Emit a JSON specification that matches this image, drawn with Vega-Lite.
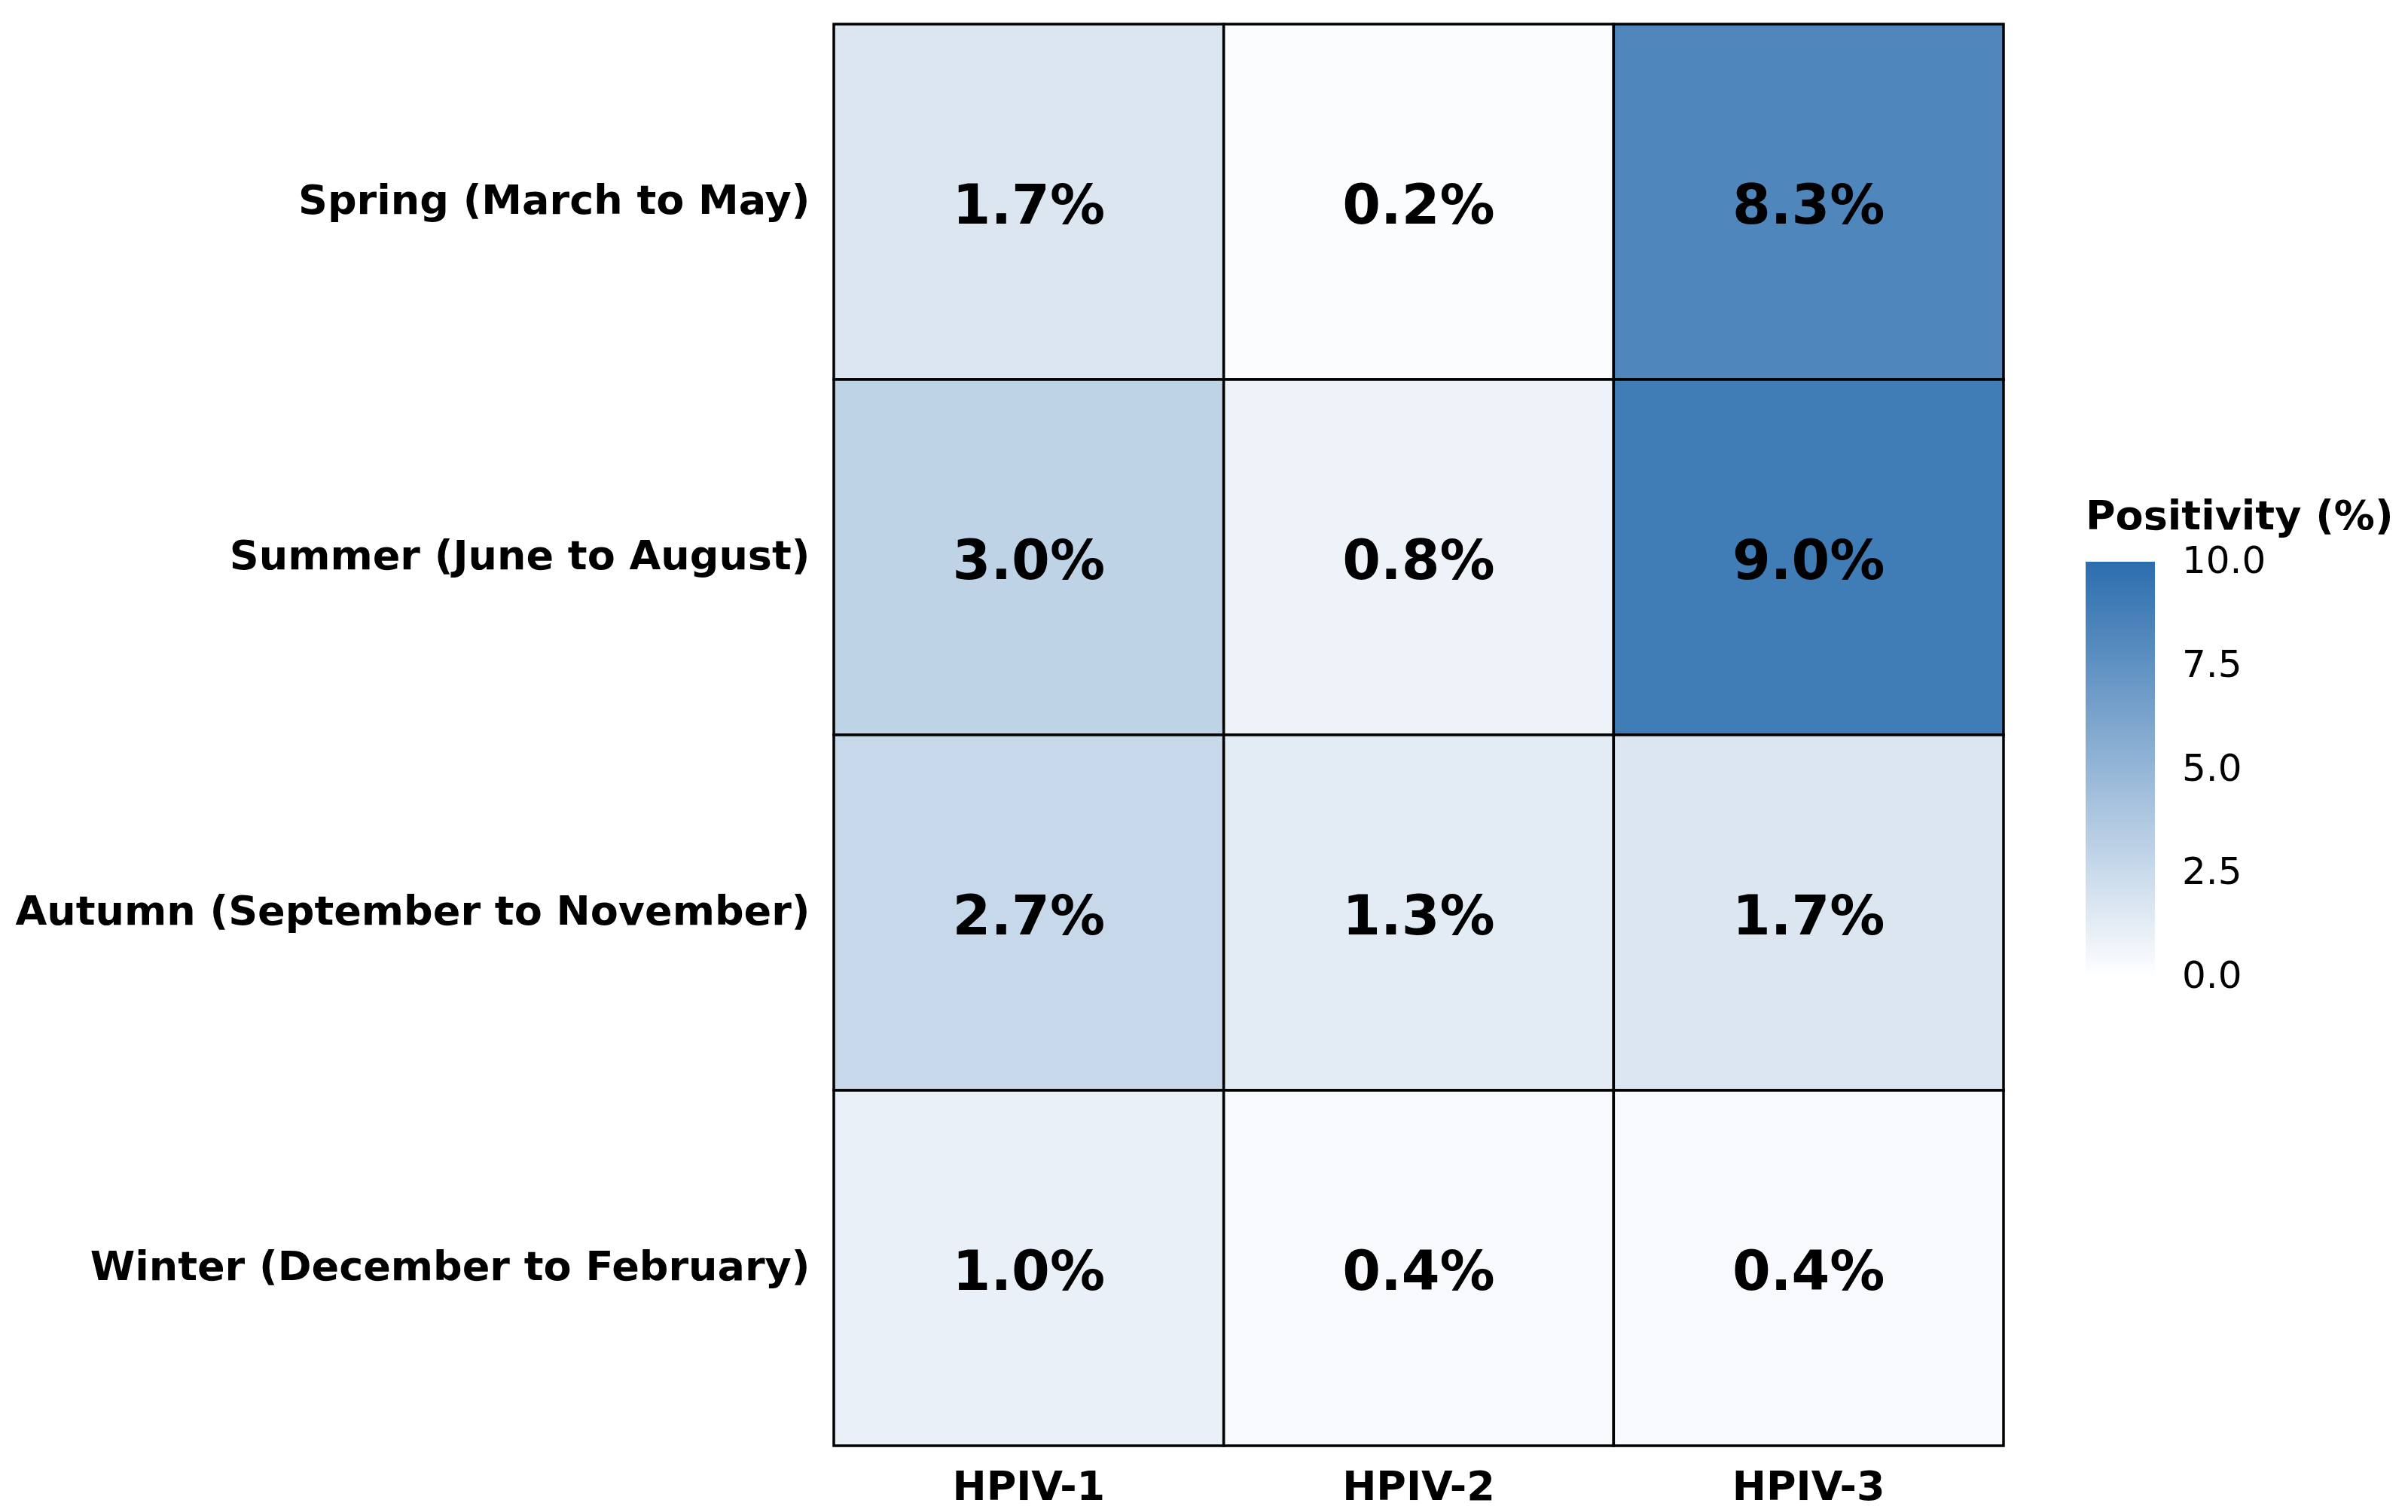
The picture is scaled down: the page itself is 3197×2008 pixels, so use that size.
{
  "$schema": "https://vega.github.io/schema/vega-lite/v6.json",
  "width": 1553,
  "height": 1888,
  "padding": {"left": 20, "top": 30, "right": 5, "bottom": 5},
  "background": "white",
  "config": {
    "view": {"stroke": null},
    "font": "DejaVu Sans"
  },
  "data": {
    "values": [
      {"season": "Spring (March to May)", "virus": "HPIV-1", "value": 1.7},
      {"season": "Spring (March to May)", "virus": "HPIV-2", "value": 0.2},
      {"season": "Spring (March to May)", "virus": "HPIV-3", "value": 8.3},
      {"season": "Summer (June to August)", "virus": "HPIV-1", "value": 3.0},
      {"season": "Summer (June to August)", "virus": "HPIV-2", "value": 0.8},
      {"season": "Summer (June to August)", "virus": "HPIV-3", "value": 9.0},
      {"season": "Autumn (September to November)", "virus": "HPIV-1", "value": 2.7},
      {"season": "Autumn (September to November)", "virus": "HPIV-2", "value": 1.3},
      {"season": "Autumn (September to November)", "virus": "HPIV-3", "value": 1.7},
      {"season": "Winter (December to February)", "virus": "HPIV-1", "value": 1.0},
      {"season": "Winter (December to February)", "virus": "HPIV-2", "value": 0.4},
      {"season": "Winter (December to February)", "virus": "HPIV-3", "value": 0.4}
    ]
  },
  "transform": [
    {"calculate": "format(datum.value, '.1f') + '%'", "as": "label"}
  ],
  "encoding": {
    "x": {
      "field": "virus",
      "type": "nominal",
      "sort": ["HPIV-1", "HPIV-2", "HPIV-3"],
      "scale": {"paddingInner": 0, "paddingOuter": 0},
      "axis": {
        "title": null,
        "labelAngle": 0,
        "labelFont": "DejaVu Sans",
        "labelFontSize": 54,
        "labelFontWeight": "bold",
        "labelColor": "black",
        "labelPadding": 28,
        "labelLimit": 2000,
        "ticks": false,
        "domain": false
      }
    },
    "y": {
      "field": "season",
      "type": "nominal",
      "sort": ["Spring (March to May)", "Summer (June to August)", "Autumn (September to November)", "Winter (December to February)"],
      "scale": {"paddingInner": 0, "paddingOuter": 0},
      "axis": {
        "title": null,
        "labelFont": "DejaVu Sans",
        "labelFontSize": 54,
        "labelFontWeight": "bold",
        "labelColor": "black",
        "labelPadding": 32,
        "labelLimit": 2000,
        "ticks": false,
        "domain": false
      }
    }
  },
  "layer": [
    {
      "mark": {"type": "rect", "stroke": "black", "strokeWidth": 3.5},
      "encoding": {
        "color": {
          "field": "value",
          "type": "quantitative",
          "scale": {"domain": [0, 10], "range": ["#FFFFFF", "#2B6DAE"], "interpolate": "rgb"},
          "legend": {
            "title": "Positivity (%)",
            "titleFont": "DejaVu Sans",
            "titleFontSize": 54,
            "titleFontWeight": "bold",
            "titleColor": "black",
            "titlePadding": 32,
            "titleLimit": 2000,
            "orient": "none",
            "legendX": 1662,
            "legendY": 628,
            "direction": "vertical",
            "gradientLength": 551,
            "gradientThickness": 92,
            "gradientStrokeWidth": 0,
            "values": [0, 2.5, 5, 7.5, 10],
            "format": ".1f",
            "labelFont": "DejaVu Sans",
            "labelFontSize": 50,
            "labelColor": "black",
            "labelOffset": 36,
            "labelLimit": 1000,
            "labelBaseline": "middle",
            "labelOverlap": false,
            "encode": {
              "labels": {"update": {"baseline": {"value": "middle"}}}
            }
          }
        }
      }
    },
    {
      "mark": {"type": "text", "font": "DejaVu Sans", "fontSize": 73, "fontWeight": "bold", "color": "black", "baseline": "middle", "align": "center", "dy": 7},
      "encoding": {
        "text": {"field": "label", "type": "nominal"}
      }
    }
  ]
}
